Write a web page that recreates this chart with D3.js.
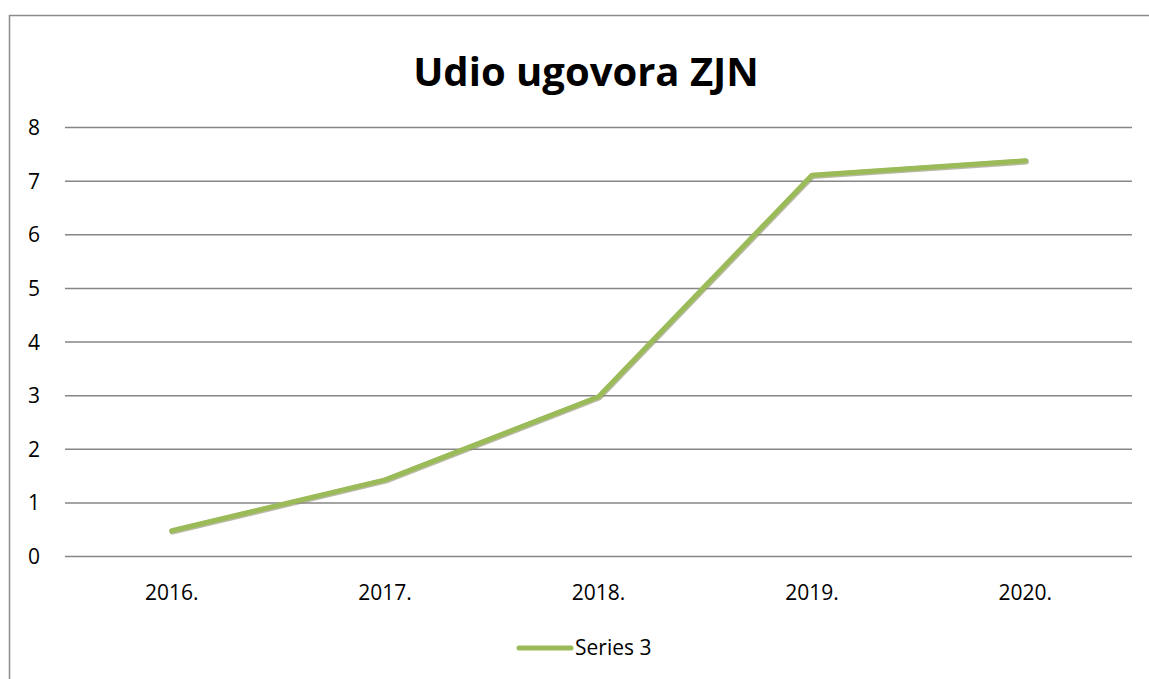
<!DOCTYPE html>
<html>
<head>
<meta charset="utf-8">
<script src="https://cdn.jsdelivr.net/npm/d3@7"></script>
<style>
  body { margin: 0; background: #fff; }
  text { font-family: "Open Sans", "Noto Sans", sans-serif; fill: #000; }
</style>
</head>
<body>
<script>
// data
var years = ["2016.", "2017.", "2018.", "2019.", "2020."];
var series3 = [0.47, 1.42, 2.97, 7.1, 7.37];
var yTicks = [0, 1, 2, 3, 4, 5, 6, 7, 8];

var w = 1149, h = 679;
var plotLeft = 65, plotRight = 1132, plotTop = 127, plotBottom = 556;

var svg = d3.select("body").append("svg")
    .attr("width", w)
    .attr("height", h);

// chart border (runs off the right and bottom edge)
svg.append("rect")
   .attr("x", 9.5).attr("y", 15.5)
   .attr("width", 1160).attr("height", 700)
   .attr("fill", "none")
   .attr("stroke", "#8c8c8c")
   .attr("stroke-width", 1.5);

// scales
var xScale = d3.scaleBand().domain(years).range([plotLeft, plotRight]);
var yScale = d3.scaleLinear().domain([0, 8]).range([plotBottom, plotTop]);

// gridlines + y labels
var yAxis = d3.axisLeft(yScale)
    .tickValues(yTicks)
    .tickSize(-(plotRight - plotLeft))
    .tickFormat(d3.format("d"));

var gy = svg.append("g")
   .attr("transform", "translate(" + plotLeft + ",0)")
   .call(yAxis);
gy.select(".domain").remove();
gy.selectAll("line").attr("stroke", "#868686").attr("stroke-width", 1.5);
gy.selectAll("text")
  .attr("font-size", "21px")
  .attr("text-anchor", "middle")
  .attr("x", -31)
  .attr("dy", "0.36em");

// x labels
var xAxis = d3.axisBottom(xScale).tickSize(0);
var gx = svg.append("g")
   .attr("transform", "translate(0," + plotBottom + ")")
   .call(xAxis);
gx.select(".domain").remove();
gx.selectAll("text")
  .attr("font-size", "21px")
  .attr("y", 44)
  .attr("dy", 0);

// line
var line = d3.line()
    .x(function(d, i) { return xScale(years[i]) + xScale.bandwidth() / 2; })
    .y(function(d) { return yScale(d); });

svg.append("path")
   .datum(series3)
   .attr("d", line)
   .attr("fill", "none")
   .attr("stroke", "#8a8a6a")
   .attr("stroke-opacity", 0.6)
   .attr("stroke-width", 6)
   .attr("stroke-linecap", "round")
   .attr("stroke-linejoin", "round")
   .attr("transform", "translate(0.6,0.8)");

svg.append("path")
   .datum(series3)
   .attr("d", line)
   .attr("fill", "none")
   .attr("stroke", "#9bbb59")
   .attr("stroke-width", 5)
   .attr("stroke-linecap", "round")
   .attr("stroke-linejoin", "round");

// title
svg.append("text")
   .attr("x", 586).attr("y", 86)
   .attr("text-anchor", "middle")
   .attr("font-size", "40px")
   .attr("font-weight", "bold")
   .text("Udio ugovora ZJN");

// legend
svg.append("line")
   .attr("x1", 519).attr("x2", 571)
   .attr("y1", 648).attr("y2", 648)
   .attr("stroke", "#9bbb59")
   .attr("stroke-width", 5)
   .attr("stroke-linecap", "round");
svg.append("text")
   .attr("x", 575).attr("y", 655)
   .attr("font-size", "21px")
   .text("Series 3");
</script>
</body>
</html>
